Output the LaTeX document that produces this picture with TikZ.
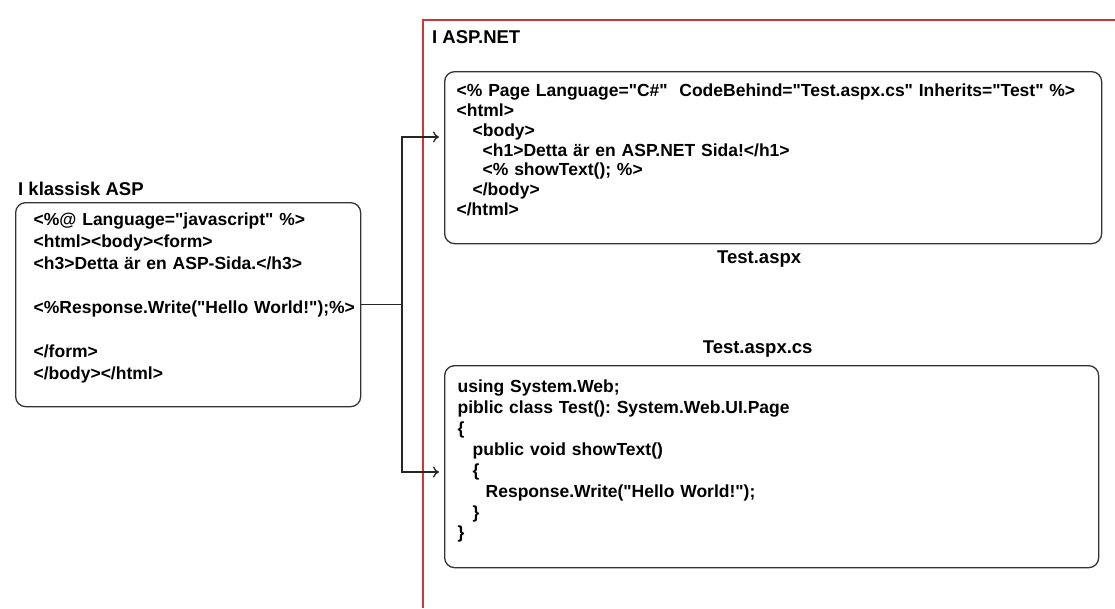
\documentclass[tikz,border=0pt]{standalone}
\usepackage{fontspec}
\setmainfont{Liberation Sans}[Ligatures=TeXOff]
\usetikzlibrary{arrows,arrows.meta,positioning}
\definecolor{frame-red}{rgb}{0.80, 0.22, 0.22}
\definecolor{box-grey}{rgb}{0.2, 0.2, 0.2}
\frenchspacing

\begin{document}
\begin{tikzpicture}
    [x=1pt, y=-1pt,
    codebox/.style = {draw=box-grey, line width=1.3pt, rounded corners=10pt, anchor=north west,
      align=left, inner ysep=0pt},
    heading/.style = {inner sep=0pt, font=\bfseries\fontsize{18.5}{22}\selectfont},
    wire/.style = {line width=1.3pt, draw=black!85},
    feed/.style = {wire, -{To[length=6pt, width=11pt]}},
    frame/.style = {draw=frame-red, line width=1.2pt}]

    \useasboundingbox (0,0) rectangle (1115,608);
    \draw [frame] (423,608) |- (1115,20);

    \node [codebox, text width=309pt, inner xsep=18pt, text height=23pt, text depth=181pt,
      font=\bfseries\fontsize{17.5}{22}\selectfont\frenchspacing] (classic) at (15,202)
      {<\%@ Language="javascript" \%>\\
       <html><body><form>\\
       <h3>Detta är en ASP-Sida.</h3>\\[22pt]
       <\%Response.Write("Hello~World!");\%>\\[22pt]
       </form>\\
       </body></html>};
    \node [heading, anchor=base west, xshift=3pt, yshift=7pt] (classic title) at (classic.north west) {I klassisk ASP};

    \node [codebox, text width=633pt, inner xsep=12pt, text height=25pt, text depth=147pt,
      font=\bfseries\fontsize{17.5}{19.8}\selectfont\frenchspacing] (aspx) at (444,71)
      {<\% Page Language="C\#"\ \ CodeBehind="Test.aspx.cs" Inherits="Test" \%>\\
       <html>\\
       \hspace*{16pt}<body>\\
       \hspace*{26pt}<h1>Detta är en ASP.NET Sida!</h1>\\
       \hspace*{26pt}<\% showText(); \%>\\
       \hspace*{16pt}</body>\\
       </html>};
    \node [heading, anchor=base, xshift=-14pt, yshift=-19pt] (aspx label) at (aspx.south) {Test.aspx};

    \node [codebox, text width=628pt, inner xsep=13pt, text height=27pt, text depth=175pt,
      font=\bfseries\fontsize{17.5}{20.9}\selectfont\frenchspacing] (codebehind) at (444,365)
      {using System.Web;\\
       piblic class Test(): System.Web.UI.Page\\
       \{\\
       \hspace*{15pt}public void showText()\\
       \hspace*{15pt}\{\\
       \hspace*{28pt}Response.Write("Hello World!");\\
       \hspace*{15pt}\}\\
       \}};
    \node [heading, anchor=base, xshift=-14pt, yshift=12pt] (codebehind label) at (codebehind.north) {Test.aspx.cs};

    \node [heading, anchor=base west] (aspnet title) at (432,43) {I ASP.NET};

    % fork from the classic page to both new files
    \coordinate (split) at (classic.east -| 402,0);
    \coordinate (aspx in) at (439,137);
    \coordinate (codebehind in) at (439,472);
    \draw [wire] (classic.east) -- (split);
    \draw [feed] (split) |- (aspx in);
    \draw [feed] (split) |- (codebehind in);
\end{tikzpicture}
\end{document}
